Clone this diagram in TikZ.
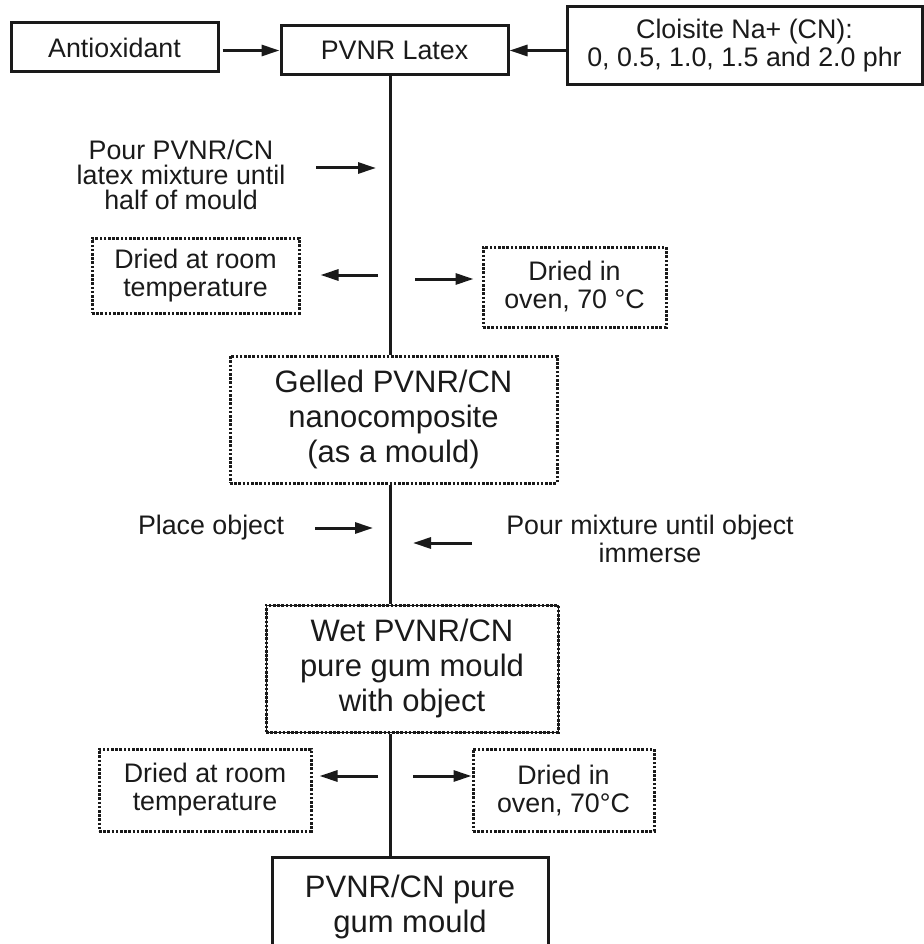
\documentclass[tikz,border=0pt]{standalone}
\usepackage{fontspec}
\setmainfont{Liberation Sans}
\usetikzlibrary{arrows.meta}
\definecolor{inkgray}{RGB}{26, 26, 26}

\begin{document}
\begin{tikzpicture}[x=1pt, y=-1pt, line width=3pt, color=inkgray,
  solidbox/.style={draw, inner sep=0pt, align=center},
  dotbox/.style={draw, dash pattern=on 2.6pt off 1.6pt, inner sep=0pt, align=center},
  wetbox/.style={dotbox, postaction={draw, solid, line width=0.8pt}},
  smalltxt/.style={font=\fontsize{26.8}{28}\selectfont},
  bigtxt/.style={font=\fontsize{31}{35}\selectfont},
  flow/.style={-{Triangle[length=18pt, width=11pt]}}]
  \useasboundingbox (0,0) rectangle (923,944);

  % Inputs
  \node[solidbox, smalltxt, minimum width=207pt, minimum height=49pt] (anti) at (114.5,47.5) {Antioxidant};
  \node[solidbox, smalltxt, minimum width=227pt, minimum height=49pt] (latex) at (394.5,50.5) {PVNR Latex};
  \node[solidbox, smalltxt, minimum width=355pt, minimum height=78pt] (cloisite) at (744.5,46) {Cloisite Na+ (CN):\\0, 0.5, 1.0, 1.5 and 2.0 phr};

  \draw[flow] ([xshift=3pt]anti.east |- latex.west) -- (latex.west);
  \draw[flow] (cloisite.west |- latex.east) -- (latex.east);

  % First casting
  \coordinate (spine) at (390,0);
  \node[align=center, font=\fontsize{26.8}{25}\selectfont] (pourhalf) at (181,175) {Pour PVNR/CN\\latex mixture until\\half of mould};
  \coordinate (pourhalfend) at (376,168);
  \draw[flow] (pourhalfend -| 316,0) -- (pourhalfend);

  \node[dotbox, smalltxt, minimum width=207pt, minimum height=75pt] (roomA) at (195.5,275.5) {Dried at room\\temperature};
  \node[dotbox, smalltxt, minimum width=183pt, minimum height=80pt] (ovenA) at (574.5,287) {Dried in\\oven, 70 \textdegree C};
  \coordinate (roomAtail) at (378,275);
  \coordinate (ovenAtail) at (415,279);
  \draw[flow] (roomAtail) -- ([xshift=20pt]roomA.east |- roomAtail);
  \draw[flow] (ovenAtail) -- ([xshift=-8pt]ovenA.west |- ovenAtail);

  \node[dotbox, bigtxt, minimum width=327pt, minimum height=127pt] (gelled) at (393.5,419.5) {Gelled PVNR/CN\\nanocomposite\\(as a mould)};
  \draw (latex.south -| spine) -- (gelled.north -| spine);

  % Second casting
  \node[smalltxt] (place) at (211,528) {Place object};
  \node[smalltxt, align=center] (pourobj) at (650,539) {Pour mixture until object\\immerse};
  \coordinate (placeend) at (373,528);
  \coordinate (pourobjtail) at (472,543);
  \draw[flow] (placeend -| 315,0) -- (placeend);
  \draw[flow] (pourobjtail) -- (pourobjtail -| 413,0);

  \node[wetbox, bigtxt, minimum width=292pt, minimum height=127pt] (wet) at (412,668.5) {Wet PVNR/CN\\pure gum mould\\with object};
  \draw (gelled.south -| spine) -- (wet.north -| spine);

  \node[dotbox, smalltxt, minimum width=212pt, minimum height=82pt] (roomB) at (205,790) {Dried at room\\temperature};
  \node[dotbox, smalltxt, minimum width=181pt, minimum height=82pt] (ovenB) at (563.5,790) {Dried in\\oven, 70\textdegree C};
  \coordinate (roomBtail) at (378,776);
  \coordinate (ovenBtail) at (413,776);
  \draw[flow] (roomBtail) -- ([xshift=7pt]roomB.east |- roomBtail);
  \draw[flow] (ovenBtail) -- (ovenB.west |- ovenBtail);

  \node[solidbox, bigtxt, minimum width=276pt, minimum height=100pt] (final) at (410,907) {PVNR/CN pure\\gum mould};
  \draw (wet.south -| spine) -- (final.north -| spine);
\end{tikzpicture}
\end{document}
